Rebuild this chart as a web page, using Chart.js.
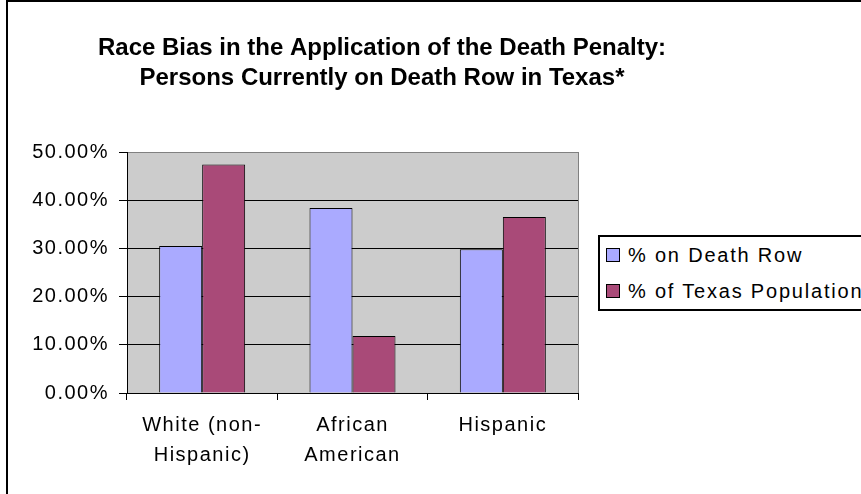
<!DOCTYPE html>
<html>
<head>
<meta charset="utf-8">
<script src="https://cdn.jsdelivr.net/npm/chart.js@4"></script>
<style>
  body { margin: 0; width: 861px; height: 494px; overflow: hidden; position: relative; background: #fff; font-family: "Liberation Sans", Arial, sans-serif; }
  #frame { position: absolute; left: 6px; top: 0; width: 900px; height: 600px; border-left: 2px solid #000; border-top: 2px solid #000; }
  #chart { position: absolute; left: 0; top: 0; }
  #legend { position: absolute; left: 598px; top: 235px; width: 300px; height: 72px; border: 2px solid #000; background: #fff; }
  .item { height: 36px; display: flex; align-items: center; font-size: 20px; letter-spacing: 1.8px; color: #000; white-space: nowrap; }
  .swatch { width: 12px; height: 12px; border: 1px solid #000; margin-left: 6px; margin-right: 8px; }
</style>
</head>
<body>
<div id="frame"></div>
<canvas id="chart" width="861" height="494"></canvas>
<div id="legend"></div>
<script>
// chart values
const categories = [["White (non-", "Hispanic)"], ["African", "American"], "Hispanic"];
const deathRow = [30.5, 38.4, 29.8];
const texasPopulation = [47.4, 11.8, 36.5];
const seriesNames = ["% on Death Row", "% of Texas Population"];
const seriesColors = ["#aaaaff", "#a94a78"];
const titleLines = ["Race Bias in the Application of the Death Penalty:", "Persons Currently on Death Row in Texas*"];
const yMax = 50;
const yStep = 10;

Chart.defaults.font.family = "'Liberation Sans', Arial, sans-serif";
Chart.defaults.font.size = 20;
Chart.defaults.color = "#000";

// grey plot area, letter spacing like the old office chart, title
const excelLook = {
  id: "excelLook",
  beforeDraw(chart) {
    const { ctx, chartArea: a } = chart;
    ctx.letterSpacing = "1.5px";
    ctx.save();
    ctx.fillStyle = "#cccccc";
    ctx.fillRect(a.left, a.top, a.right - a.left, a.bottom - a.top);
    ctx.restore();
  },
  beforeDatasetsDraw(chart) {
    const { ctx, chartArea: a } = chart;
    ctx.save();
    ctx.strokeStyle = "#808080";
    ctx.lineWidth = 1;
    ctx.beginPath();
    ctx.moveTo(Math.round(a.right) + 0.5, a.top);
    ctx.lineTo(Math.round(a.right) + 0.5, a.bottom);
    ctx.stroke();
    ctx.restore();
  },
  afterDraw(chart) {
    const { ctx } = chart;
    ctx.save();
    ctx.letterSpacing = "0px";
    ctx.font = "bold 24px 'Liberation Sans', Arial, sans-serif";
    ctx.fillStyle = "#000";
    ctx.textAlign = "center";
    ctx.textBaseline = "alphabetic";
    const baselines = [55, 85];
    titleLines.forEach((line, i) => {
      ctx.fillText(line, 382, baselines[i]);
    });
    ctx.restore();
  },
};

const chart = new Chart(document.getElementById("chart"), {
  type: "bar",
  data: {
    labels: categories,
    datasets: [
      {
        label: seriesNames[0],
        data: deathRow,
        backgroundColor: seriesColors[0],
        borderColor: "#000",
        borderWidth: 1,
      },
      {
        label: seriesNames[1],
        data: texasPopulation,
        backgroundColor: seriesColors[1],
        borderColor: "#000",
        borderWidth: 1,
      },
    ],
  },
  options: {
    responsive: false,
    animation: false,
    layout: { padding: { left: 10, right: 283, top: 152, bottom: 0 } },
    datasets: { bar: { categoryPercentage: 0.572, barPercentage: 1 } },
    plugins: {
      legend: { display: false },
      tooltip: { enabled: false },
    },
    scales: {
      x: {
        afterFit: (s) => { s.height = 101; },
        grid: { drawOnChartArea: false, color: "#000", tickLength: 7 },
        border: { color: "#000", width: 1 },
        ticks: { maxRotation: 0, autoSkip: false, padding: 10, font: { lineHeight: 1.5 } },
      },
      y: {
        min: 0,
        max: yMax,
        afterFit: (s) => { s.width = 117; },
        grid: {
          color: (c) => (c.tick && c.tick.value === yMax ? "#808080" : "#000"),
          tickColor: "#000",
          tickLength: 8,
        },
        border: { color: "#000", width: 1 },
        ticks: {
          stepSize: yStep,
          padding: 10,
          callback: (v) => v.toFixed(2) + "%",
        },
      },
    },
  },
  plugins: [excelLook],
});

// legend box built from the datasets
const legend = document.getElementById("legend");
chart.data.datasets.forEach((ds) => {
  const row = document.createElement("div");
  row.className = "item";
  row.innerHTML = `<span class="swatch" style="background:${ds.backgroundColor}"></span><span>${ds.label}</span>`;
  legend.appendChild(row);
});
</script>
</body>
</html>
